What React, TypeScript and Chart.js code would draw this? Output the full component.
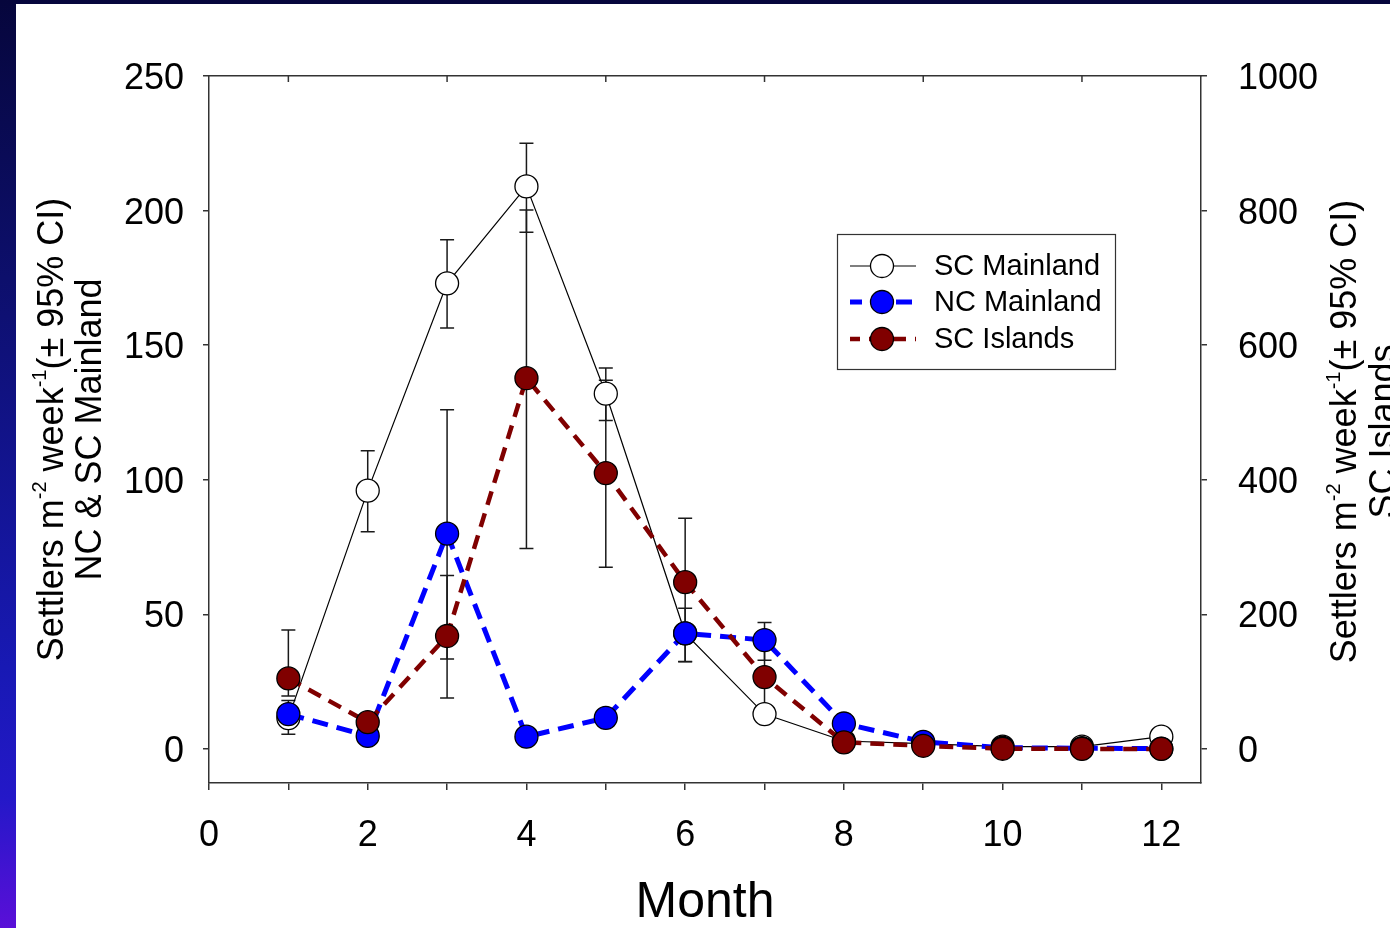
import React, { useEffect, useRef } from "react";
import { Chart, registerables } from "chart.js";

Chart.register(...registerables);

// ---------------- data ----------------
const months = [1, 2, 3, 4, 5, 6, 7, 8, 9, 10, 11, 12];

const scMainland = [11.5, 96, 173, 209, 132, 43, 13, 3, 2, 0.9, 0.9, 4.6];
const scMainlandLow = [5.5, 80.7, 156.4, 192, 122, 32.4, 11.5, null, null, null, null, null];
const scMainlandHigh = [18, 110.8, 189.2, 225, 141.5, 52.3, 15, null, null, null, null, null];

const ncMainland = [13, 4.9, 80, 4.6, 11.6, 43, 40.5, 9.5, 2.7, 0.5, 0.3, 0.2];
const ncMainlandLow = [null, null, 19, null, null, null, 33, null, null, null, null, null];
const ncMainlandHigh = [null, null, 126, null, null, null, 47, null, null, null, null, null];

const scIslands = [105, 40, 168, 551, 410, 248, 107, 10, 4.9, 0.5, 0.3, 0.3];
const scIslandsLow = [79, null, 134, 298, 270, 130, 48, null, null, null, null, null];
const scIslandsHigh = [177, null, 258, 801, 548, 343, 165, null, null, null, null, null];

const xTicks = [0, 1, 2, 3, 4, 5, 6, 7, 8, 9, 10, 11, 12];
const topTicks = [1, 3, 5, 7, 9, 11];
const leftTicks = [0, 50, 100, 150, 200, 250];
const rightTicks = [0, 200, 400, 600, 800, 1000];

const seriesLabels = ["SC Mainland", "NC Mainland", "SC Islands"];
const xTitle = "Month";
const leftTitle2 = "NC & SC Mainland";
const rightTitle2 = "SC Islands";

// ---------------- styling ----------------
const FONT = "'Liberation Sans', Arial, Helvetica, sans-serif";
const AXIS = "#333333";

type Part = { t: string; sup?: boolean };
const titleLine1: Part[] = [
  { t: "Settlers m" },
  { t: "-2", sup: true },
  { t: " week" },
  { t: "-1", sup: true },
  { t: "(\u00b1 95% CI)" },
];

function drawRich(ctx: CanvasRenderingContext2D, parts: Part[], cy: number, baselineX: number, size: number) {
  const supSize = Math.round(size * 0.56);
  const widths = parts.map((p) => {
    ctx.font = `${p.sup ? supSize : size}px ${FONT}`;
    return ctx.measureText(p.t).width;
  });
  const total = widths.reduce((a, b) => a + b, 0);
  ctx.save();
  ctx.translate(baselineX, cy);
  ctx.rotate(-Math.PI / 2);
  ctx.fillStyle = "#000";
  ctx.textBaseline = "alphabetic";
  ctx.textAlign = "left";
  let x = -total / 2;
  parts.forEach((p, i) => {
    ctx.font = `${p.sup ? supSize : size}px ${FONT}`;
    ctx.fillText(p.t, x, p.sup ? -size * 0.45 : 0);
    x += widths[i];
  });
  ctx.restore();
}

const errorBarPlugin = {
  id: "errorBars",
  beforeDatasetsDraw(chart: any) {
    const ctx = chart.ctx as CanvasRenderingContext2D;
    const xs = chart.scales.x;
    ctx.save();
    ctx.strokeStyle = "#1a1a1a";
    ctx.lineWidth = 1.5;
    chart.data.datasets.forEach((ds: any) => {
      const ys = chart.scales[ds.yAxisID];
      const lo = ds.errLow as (number | null)[];
      const hi = ds.errHigh as (number | null)[];
      months.forEach((m, i) => {
        if (lo[i] == null || hi[i] == null) return;
        const px = xs.getPixelForValue(m);
        const y1 = ys.getPixelForValue(lo[i]);
        const y2 = ys.getPixelForValue(hi[i]);
        ctx.beginPath();
        ctx.moveTo(px, y1);
        ctx.lineTo(px, y2);
        ctx.moveTo(px - 7, y1);
        ctx.lineTo(px + 7, y1);
        ctx.moveTo(px - 7, y2);
        ctx.lineTo(px + 7, y2);
        ctx.stroke();
      });
    });
    ctx.restore();
  },
};

const decorPlugin = {
  id: "decor",
  afterDraw(chart: any) {
    const ctx = chart.ctx as CanvasRenderingContext2D;
    const area = chart.chartArea;
    const xs = chart.scales.x;

    // inward ticks on the top axis
    ctx.save();
    ctx.strokeStyle = AXIS;
    ctx.lineWidth = 1.5;
    topTicks.forEach((v) => {
      const px = xs.getPixelForValue(v);
      ctx.beginPath();
      ctx.moveTo(px, area.top);
      ctx.lineTo(px, area.top + 6);
      ctx.stroke();
    });
    ctx.restore();

    // axis titles
    ctx.save();
    ctx.fillStyle = "#000";
    ctx.font = `50px ${FONT}`;
    ctx.textAlign = "center";
    ctx.textBaseline = "alphabetic";
    ctx.fillText(xTitle, (area.left + area.right) / 2, 917);
    ctx.restore();

    const midY = (area.top + area.bottom) / 2;
    drawRich(ctx, titleLine1, midY, 62.5, 36);
    drawRich(ctx, [{ t: leftTitle2 }], midY, 101, 36);
    drawRich(ctx, titleLine1, midY + 2, 1356, 36);
    drawRich(ctx, [{ t: rightTitle2 }], midY + 2, 1395, 36);

    // legend
    const bx = 837.5, by = 234.5, bw = 278, bh = 135;
    ctx.save();
    ctx.fillStyle = "#fff";
    ctx.fillRect(bx, by, bw, bh);
    ctx.strokeStyle = AXIS;
    ctx.lineWidth = 1.2;
    ctx.strokeRect(bx, by, bw, bh);
    const rows = [266, 302, 339];
    chart.data.datasets.forEach((ds: any, i: number) => {
      const y = rows[i];
      ctx.save();
      ctx.strokeStyle = ds.borderColor;
      ctx.lineWidth = ds.borderWidth;
      ctx.setLineDash(ds.borderDash || []);
      ctx.lineDashOffset = 4;
      ctx.beginPath();
      ctx.moveTo(850, y);
      ctx.lineTo(916, y);
      ctx.stroke();
      ctx.restore();
      ctx.beginPath();
      ctx.arc(882, y, 11.5, 0, Math.PI * 2);
      ctx.fillStyle = ds.pointBackgroundColor;
      ctx.fill();
      ctx.lineWidth = 1.3;
      ctx.strokeStyle = "#000";
      ctx.stroke();
      ctx.fillStyle = "#000";
      ctx.font = `29px ${FONT}`;
      ctx.textAlign = "left";
      ctx.textBaseline = "middle";
      ctx.fillText(ds.label, 934, y + 1);
    });
    ctx.restore();
  },
};

function toPoints(vals: number[]) {
  return months.map((m, i) => ({ x: m, y: vals[i] }));
}

export default function App() {
  const ref = useRef<HTMLCanvasElement>(null);

  useEffect(() => {
    const canvas = ref.current;
    if (!canvas) return;
    const tickFont = { family: FONT, size: 36 };
    const chart = new Chart(canvas, {
      type: "line",
      data: {
        datasets: [
          {
            label: seriesLabels[0],
            data: toPoints(scMainland),
            xAxisID: "x",
            yAxisID: "y",
            borderColor: "#000000",
            borderWidth: 1.2,
            pointBackgroundColor: "#ffffff",
            pointBorderColor: "#000000",
            pointBorderWidth: 1.3,
            pointRadius: 11.5,
            tension: 0,
            order: 3,
            errLow: scMainlandLow,
            errHigh: scMainlandHigh,
          } as any,
          {
            label: seriesLabels[1],
            data: toPoints(ncMainland),
            xAxisID: "x",
            yAxisID: "y",
            borderColor: "#0000ff",
            borderWidth: 5,
            borderDash: [16, 9],
            borderCapStyle: "butt",
            pointBackgroundColor: "#0000ff",
            pointBorderColor: "#000000",
            pointBorderWidth: 1.3,
            pointRadius: 11.5,
            tension: 0,
            order: 2,
            errLow: ncMainlandLow,
            errHigh: ncMainlandHigh,
          } as any,
          {
            label: seriesLabels[2],
            data: toPoints(scIslands),
            xAxisID: "x",
            yAxisID: "y2",
            borderColor: "#800000",
            borderWidth: 4.5,
            borderDash: [14, 9],
            borderCapStyle: "butt",
            pointBackgroundColor: "#800000",
            pointBorderColor: "#000000",
            pointBorderWidth: 1.3,
            pointRadius: 11.5,
            tension: 0,
            order: 1,
            errLow: scIslandsLow,
            errHigh: scIslandsHigh,
          } as any,
        ],
      },
      options: {
        responsive: false,
        animation: false,
        devicePixelRatio: 1,
        layout: { padding: 0, autoPadding: false },
        plugins: { legend: { display: false }, tooltip: { enabled: false } },
        scales: {
          x: {
            type: "linear",
            position: "bottom",
            min: 0,
            max: 12.5,
            afterBuildTicks: (s: any) => {
              s.ticks = xTicks.map((v) => ({ value: v }));
            },
            afterFit: (s: any) => {
              s.height = 145;
            },
            ticks: {
              autoSkip: false,
              maxRotation: 0,
              color: "#000",
              font: tickFont,
              padding: 24,
              callback: (v: any) => (Number(v) % 2 === 0 ? String(v) : ""),
            },
            grid: { drawOnChartArea: false, drawTicks: true, tickLength: 7, color: AXIS, lineWidth: 1.5 },
            border: { display: true, color: AXIS, width: 1.5 },
          },
          xTop: {
            type: "linear",
            position: "top",
            min: 0,
            max: 12.5,
            afterBuildTicks: (s: any) => {
              s.ticks = topTicks.map((v) => ({ value: v }));
            },
            afterFit: (s: any) => {
              s.height = 76;
            },
            ticks: { display: false },
            grid: { drawOnChartArea: false, drawTicks: false },
            border: { display: true, color: AXIS, width: 1.5 },
          },
          y: {
            type: "linear",
            position: "left",
            min: -12.6,
            max: 250,
            afterBuildTicks: (s: any) => {
              s.ticks = leftTicks.map((v) => ({ value: v }));
            },
            afterFit: (s: any) => {
              s.width = 209;
            },
            ticks: { color: "#000", font: tickFont, padding: 19, labelOffset: 3, callback: (v: any) => String(v) },
            grid: { drawOnChartArea: false, drawTicks: true, tickLength: 6, color: AXIS, lineWidth: 1.5 },
            border: { display: true, color: AXIS, width: 1.5 },
          },
          y2: {
            type: "linear",
            position: "right",
            min: -50.4,
            max: 1000,
            afterBuildTicks: (s: any) => {
              s.ticks = rightTicks.map((v) => ({ value: v }));
            },
            afterFit: (s: any) => {
              s.width = 189;
            },
            ticks: { color: "#000", font: tickFont, padding: 31, labelOffset: 3, callback: (v: any) => String(v) },
            grid: { drawOnChartArea: false, drawTicks: true, tickLength: 6, color: AXIS, lineWidth: 1.5 },
            border: { display: true, color: AXIS, width: 1.5 },
          },
        },
      } as any,
      plugins: [errorBarPlugin, decorPlugin],
    });
    return () => chart.destroy();
  }, []);

  return (
    <div
      style={{
        position: "fixed",
        left: 0,
        top: 0,
        width: 1390,
        height: 928,
        overflow: "hidden",
        background:
          "linear-gradient(to bottom, #06063c 0%, #0d0f6c 30%, #1819b4 72%, #2418c8 86%, #5a0fd8 100%)",
      }}
    >
      <div style={{ position: "absolute", left: 16, top: 4, right: 0, bottom: 0, background: "#ffffff" }} />
      <canvas
        ref={ref}
        width={1390}
        height={928}
        style={{ position: "absolute", left: 0, top: 0, width: 1390, height: 928 }}
      />
    </div>
  );
}
